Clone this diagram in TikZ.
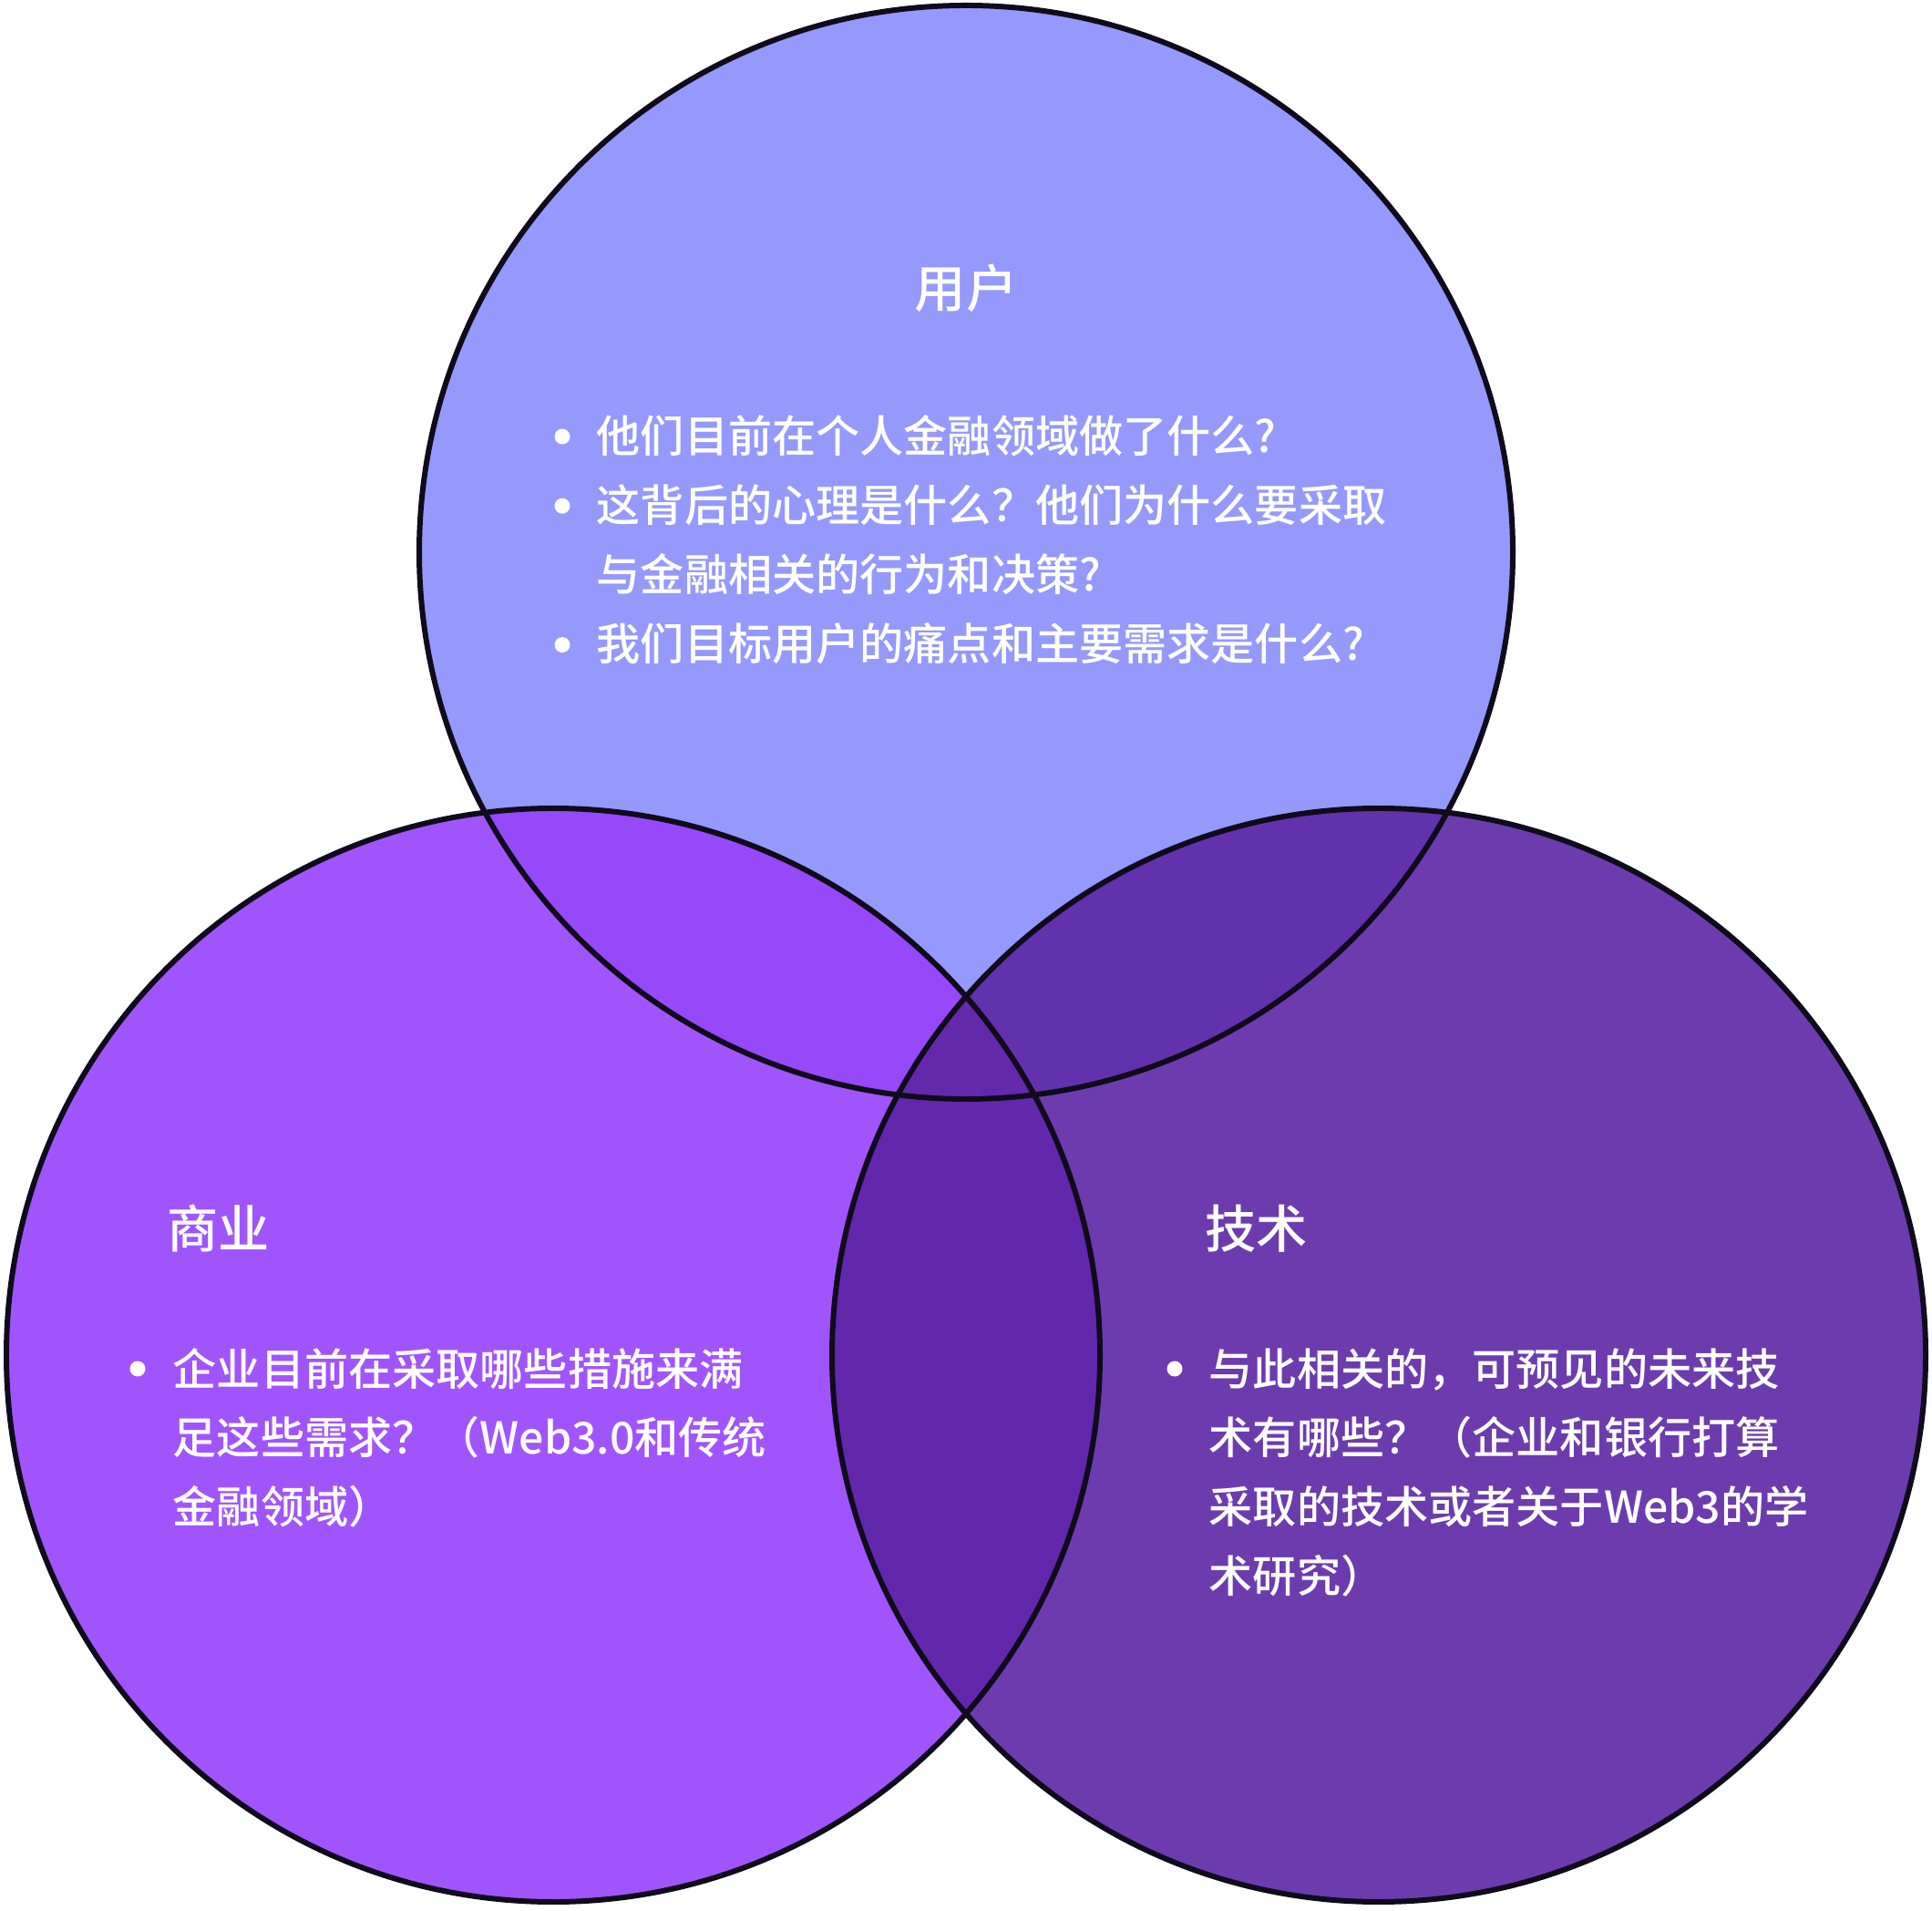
\documentclass[tikz,border=0pt]{standalone}
\usepackage{fontspec}
\setmainfont{Noto Sans CJK SC}
\newfontfamily\headfont{Noto Sans CJK SC Medium}
\usetikzlibrary{positioning}
\definecolor{userfill}{HTML}{9499FB}
\definecolor{bizfill}{HTML}{A055FC}
\definecolor{techfill}{HTML}{6C3CAE}
\definecolor{userbiz}{HTML}{9549F9}
\definecolor{usertech}{HTML}{6232AC}
\definecolor{biztech}{HTML}{6128AB}
\definecolor{allthree}{HTML}{622AAA}
\definecolor{ringline}{HTML}{100B1C}

\begin{document}
\begin{tikzpicture}[
  ring/.style={draw=ringline, line width=1.7pt},
  title/.style={text=white, inner sep=0pt, font=\fontsize{16}{19}\selectfont\headfont},
  itemlist/.style={text=white, inner sep=0pt, anchor=base west, font=\fontsize{13.7}{21.6}\selectfont\headfont},
  dot/.style={circle, fill=white, inner sep=0pt, minimum size=0.17cm}
]
  \useasboundingbox (0,0) rectangle (21.2,20.96);
  \coordinate (U) at (10.60,14.90);
  \coordinate (B) at (6.07,6.09);
  \coordinate (T) at (15.13,6.09);
  % circles
  \fill[userfill] (U) circle (6);
  \fill[bizfill] (B) circle (6);
  \fill[techfill] (T) circle (6);
  % overlaps
  \begin{scope}
    \clip (U) circle (6);
    \fill[userbiz] (B) circle (6);
    \fill[usertech] (T) circle (6);
  \end{scope}
  \begin{scope}
    \clip (B) circle (6);
    \fill[biztech] (T) circle (6);
  \end{scope}
  \begin{scope}
    \clip (U) circle (6);
    \clip (B) circle (6);
    \fill[allthree] (T) circle (6);
  \end{scope}
  \draw[ring] (U) circle (6) (B) circle (6) (T) circle (6);

  % user
  \node[title] (usertitle) at (10.60,17.80) {用户};
  \node[itemlist] (userlist) at (6.54,15.99) {\begin{tabular}[t]{@{}l@{}}
    他们目前在个人金融领域做了什么?\\
    这背后的心理是什么？他们为什么要采取\\
    与金融相关的行为和决策?\\
    我们目标用户的痛点和主要需求是什么?
  \end{tabular}};
  \node[dot] (ud1) at ([xshift=-0.37cm, yshift=0.18cm]userlist.base west) {};
  \node[dot] (ud2) at ([xshift=-0.37cm, yshift=-0.582cm]userlist.base west) {};
  \node[dot] (ud3) at ([xshift=-0.37cm, yshift=-2.106cm]userlist.base west) {};

  % business
  \node[title, anchor=west] (biztitle) at (1.83,7.48) {商业};
  \node[itemlist] (bizlist) at (1.89,5.76) {\begin{tabular}[t]{@{}l@{}}
    企业目前在采取哪些措施来满\\
    足这些需求？（Web3.0和传统\\
    金融领域）
  \end{tabular}};
  \node[dot] (bd1) at ([xshift=-0.38cm, yshift=0.18cm]bizlist.base west) {};

  % technology
  \node[title, anchor=west] (techtitle) at (13.22,7.48) {技术};
  \node[itemlist] (techlist) at (13.26,5.76) {\begin{tabular}[t]{@{}l@{}}
    与此相关的，可预见的未来技\\
    术有哪些？（企业和银行打算\\
    采取的技术或者关于Web3的学\\
    术研究）
  \end{tabular}};
  \node[dot] (td1) at ([xshift=-0.37cm, yshift=0.18cm]techlist.base west) {};
\end{tikzpicture}
\end{document}
